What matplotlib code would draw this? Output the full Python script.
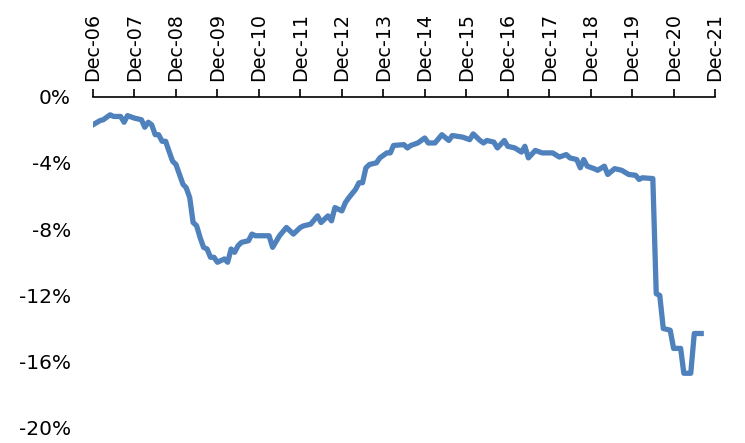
import pandas as pd
import matplotlib
matplotlib.use("Agg")
import matplotlib.pyplot as plt
import matplotlib.dates as mdates
from matplotlib.ticker import FuncFormatter


# Month-end readings of the series (percent).
months = [
    "2006-12", "2007-02", "2007-03", "2007-05", "2007-06", "2007-08", "2007-09",
    "2007-10", "2007-12", "2008-02", "2008-03", "2008-04", "2008-05", "2008-06",
    "2008-07", "2008-08", "2008-09", "2008-10", "2008-11", "2008-12", "2009-01",
    "2009-02", "2009-03", "2009-04", "2009-05", "2009-06", "2009-07", "2009-08",
    "2009-09", "2009-10", "2009-11", "2009-12", "2010-02", "2010-03", "2010-04",
    "2010-05", "2010-06", "2010-07", "2010-09", "2010-10", "2010-11", "2011-01",
    "2011-03", "2011-04", "2011-06", "2011-08", "2011-10", "2011-12", "2012-01",
    "2012-03", "2012-05", "2012-06", "2012-08", "2012-09", "2012-10", "2012-12",
    "2013-01", "2013-02", "2013-04", "2013-05", "2013-06", "2013-07", "2013-08",
    "2013-10", "2013-11", "2014-01", "2014-02", "2014-03", "2014-06", "2014-07",
    "2014-08", "2014-10", "2014-12", "2015-01", "2015-03", "2015-05", "2015-07",
    "2015-08", "2015-11", "2016-01", "2016-02", "2016-04", "2016-05", "2016-06",
    "2016-08", "2016-09", "2016-11", "2016-12", "2017-02", "2017-04", "2017-05",
    "2017-06", "2017-08", "2017-10", "2018-01", "2018-03", "2018-05", "2018-06",
    "2018-08", "2018-09", "2018-10", "2018-11", "2019-01", "2019-02", "2019-04",
    "2019-05", "2019-07", "2019-09", "2019-11", "2020-01", "2020-02", "2020-03",
    "2020-06", "2020-07", "2020-08", "2020-09", "2020-11", "2020-12", "2021-02",
    "2021-03", "2021-05", "2021-06", "2021-08",
]
values = [
    -1.7, -1.45, -1.4, -1.1, -1.2, -1.2, -1.55,
    -1.15, -1.3, -1.4, -1.85, -1.55, -1.7, -2.3,
    -2.3, -2.7, -2.7, -3.3, -3.9, -4.1, -4.7,
    -5.3, -5.5, -6.1, -7.6, -7.8, -8.5, -9.1,
    -9.2, -9.7, -9.7, -10.0, -9.8, -10.0, -9.2,
    -9.4, -9.0, -8.8, -8.7, -8.3, -8.4, -8.4,
    -8.4, -9.1, -8.4, -7.9, -8.3, -7.9, -7.8,
    -7.7, -7.2, -7.6, -7.2, -7.5, -6.7, -6.9,
    -6.4, -6.1, -5.6, -5.2, -5.2, -4.3, -4.1,
    -4.0, -3.7, -3.4, -3.4, -2.95, -2.9, -3.1,
    -2.95, -2.8, -2.5, -2.8, -2.8, -2.3, -2.65,
    -2.35, -2.45, -2.6, -2.25, -2.65, -2.8, -2.65,
    -2.75, -3.1, -2.65, -3.0, -3.1, -3.35, -3.0,
    -3.7, -3.25, -3.4, -3.4, -3.65, -3.5, -3.7,
    -3.8, -4.3, -3.8, -4.2, -4.35, -4.45, -4.2,
    -4.7, -4.35, -4.45, -4.7, -4.75, -5.0, -4.9,
    -4.95, -11.9, -12.0, -14.0, -14.1, -15.2, -15.2,
    -16.7, -16.7, -14.3, -14.3,
]
tick_years = list(range(2006, 2022))
y_ticks = [0, -4, -8, -12, -16, -20]


def main():
    dates = pd.to_datetime(months)

    fig = plt.figure(figsize=(7.45, 4.43), dpi=100)
    ax = fig.add_axes([0.1248, 0.034, 0.835, 0.748])

    ax.plot(dates, values, color="#4F81BD", linewidth=3.8, solid_joinstyle="round")

    # Date axis sits on top, labels turned upright.
    ax.set_xlim(pd.Timestamp("2006-12-01"), pd.Timestamp("2021-12-01"))
    ax.set_xticks([pd.Timestamp(f"{y}-12-01") for y in tick_years])
    ax.xaxis.set_major_formatter(mdates.DateFormatter("%b-%y"))
    ax.xaxis.tick_top()
    ax.tick_params(axis="x", direction="out", length=6, width=1.2,
                   labelsize=13.8, labelrotation=90, pad=5)

    ax.set_ylim(-20, 0)
    ax.set_yticks(y_ticks)
    ax.yaxis.set_major_formatter(FuncFormatter(lambda v, _: f"{v:.0f}%"))
    ax.tick_params(axis="y", length=0, labelsize=14.5, pad=16)

    for side in ["left", "right", "bottom"]:
        ax.spines[side].set_visible(False)
    ax.spines["top"].set_linewidth(1.2)

    fig.savefig("out.png", dpi=100)
    plt.close(fig)


if __name__ == "__main__":
    main()
